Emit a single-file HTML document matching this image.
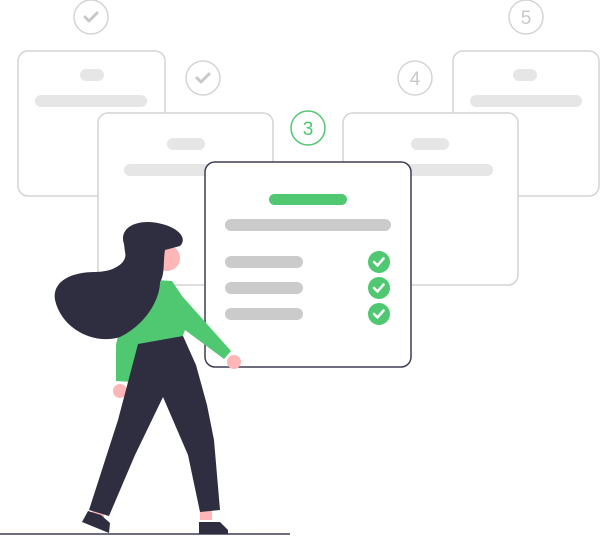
<!DOCTYPE html>
<html><head><meta charset="utf-8"><style>html,body{margin:0;padding:0;background:#fff}svg{display:block}</style></head>
<body>
<svg width="600" height="536" viewBox="0 0 600 536" xmlns="http://www.w3.org/2000/svg" font-family="Liberation Sans, sans-serif">
<g fill="#fff" stroke="#d4d4d4" stroke-width="1.5">
<rect x="18" y="51" width="147" height="145" rx="10"/>
<rect x="453" y="51" width="146" height="145" rx="10"/>
<rect x="98" y="113" width="175" height="172" rx="10"/>
<rect x="343" y="113" width="175" height="172" rx="10"/>
</g>
<g fill="#e6e6e6">
<rect x="80" y="69" width="24" height="12" rx="6"/>
<rect x="35" y="95" width="112" height="12" rx="6"/>
<rect x="513" y="69" width="24" height="12" rx="6"/>
<rect x="470" y="95" width="112" height="12" rx="6"/>
<rect x="167" y="138" width="38" height="12" rx="6"/>
<rect x="124" y="164" width="138" height="12" rx="6"/>
<rect x="411" y="138" width="38" height="12" rx="6"/>
<rect x="388" y="164" width="105" height="12" rx="6"/>
</g>
<g fill="none" stroke="#d4d4d4" stroke-width="1.5">
<circle cx="91" cy="17" r="17"/><circle cx="203" cy="78" r="17"/>
<circle cx="415" cy="78" r="17"/><circle cx="526" cy="17" r="17"/>
</g>
<g fill="none" stroke="#c8c8c8" stroke-width="3" stroke-linecap="round" stroke-linejoin="round">
<path d="M85 17l4 4 8-8"/><path d="M197 78l4 4 8-8"/>
</g>
<text x="415" y="85" font-size="19" fill="#c8c8c8" text-anchor="middle">4</text>
<text x="526" y="24" font-size="19" fill="#c8c8c8" text-anchor="middle">5</text>
<circle cx="308" cy="128" r="17" fill="#fff" stroke="#4fc871" stroke-width="1.5"/>
<text x="308" y="135" font-size="19" fill="#4fc871" text-anchor="middle">3</text>
<rect x="205" y="162" width="206" height="205" rx="10" fill="#fff" stroke="#3f3d56" stroke-width="1.5"/>
<rect x="269" y="194" width="78" height="11" rx="5.5" fill="#4fc871"/>
<g fill="#cbcbcb">
<rect x="225" y="219" width="166" height="12" rx="6"/>
<rect x="225" y="256" width="78" height="12" rx="6"/>
<rect x="225" y="282" width="78" height="12" rx="6"/>
<rect x="225" y="308" width="78" height="12" rx="6"/>
</g>
<g fill="#4fc871"><circle cx="379" cy="262" r="11"/><circle cx="379" cy="288" r="11"/><circle cx="379" cy="314" r="11"/></g>
<g fill="none" stroke="#fff" stroke-width="2.5" stroke-linecap="round" stroke-linejoin="round">
<path d="M374 262l3.5 3.5 6-7"/><path d="M374 288l3.5 3.5 6-7"/><path d="M374 314l3.5 3.5 6-7"/>
</g>
<line x1="0" y1="534" x2="290" y2="534" stroke="#3f3d56" stroke-width="1.5"/>
<!-- woman -->
<circle cx="234" cy="362" r="7" fill="#ffb6b6"/>
<circle cx="120" cy="391" r="7" fill="#ffb6b6"/>
<rect x="200" y="505" width="12" height="15" fill="#ffb6b6"/>
<rect x="92" y="505" width="12" height="15" fill="#ffb6b6"/>
<path d="M156 280 L172 281 L182 296 L231 351 L224 359 L185 330 L182 338 L140 345 L133 382 L116 381 L116 345 L122 318 Z" fill="#4fc871"/>
<path d="M138 344 L183 336 L196 365 L207 405 L214 440 L220 510 L200 512 L188 455 L163 397 L135 455 L109 516 L89 510 L118 420 Z" fill="#2f2e41"/>
<path d="M88 511 L101 515 L110 523 L109 533 L82 522 Z" fill="#2f2e41"/>
<path d="M199 522 L220 522 L228 530 L228 534 L199 534 Z" fill="#2f2e41"/>
<circle cx="167" cy="258" r="13" fill="#ffb6b6"/>
<path d="M124 244 C118 226 140 218 162 224 C178 228 188 238 180 246 L165 250 C163 262 165 275 160 282 C160 300 145 325 120 337 C95 345 62 330 55 300 C52 282 70 272 95 272 C115 272 128 262 125 252 Z" fill="#2f2e41"/>
</svg>
</body></html>
